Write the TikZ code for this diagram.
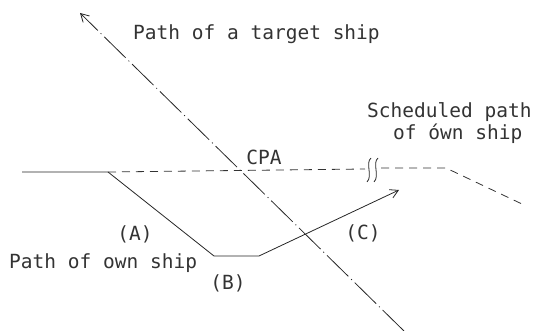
\documentclass[tikz,border=0pt]{standalone}
\usepackage{fontspec}
\setmainfont{DejaVu Sans Mono}
\usetikzlibrary{arrows.meta}
\begin{document}
\begin{tikzpicture}[x=1pt,y=-1pt,
  lbl/.style={inner sep=0pt,font=\fontsize{19.5}{22}\selectfont,text=black!80},
  pathline/.style={line width=0.8pt,black!85},
  schedline/.style={line width=0.8pt,black!80,dash pattern=on 8pt off 6pt},
  targetline/.style={line width=0.8pt,black!85,dash pattern=on 30pt off 4pt on 1pt off 4pt},
  tip/.style={-{Straight Barb[length=8pt,width=9pt,line width=0.8pt]}}]
\useasboundingbox (0,0) rectangle (542,331);
% coordinates
\coordinate (tS) at (404,331);
\coordinate (tE) at (80,13);
\coordinate (o0) at (22,172);
\coordinate (o1) at (108,172);
\coordinate (o2) at (214,256);
\coordinate (o3) at (259,256);
\coordinate (o4) at (399,190);
\coordinate (s1) at (365,169);
\coordinate (s2) at (381,168);
\coordinate (s3) at (446,168);
\coordinate (s4) at (522,204);
% target ship path
\draw[targetline,tip] (tS) -- (tE);
% scheduled path
\draw[schedline] (o1) -- (s1);
\draw[schedline] (s2) -- (s3) -- (s4);
% break mark
\draw[line width=0.8pt,black!85] (371,158) .. controls (365,163) and (373,176) .. (367,182);
\draw[line width=0.8pt,black!85] (378,158) .. controls (372,163) and (380,176) .. (374,182);
% own ship path
\draw[pathline,tip] (o0) -- (o1) -- (o2) -- (o3) -- (o4);
% labels
\node[lbl,anchor=base west] (ttarget) at (133,40) {Path of a target ship};
\node[lbl,anchor=base west] (tsched) at (367,118) {Scheduled path};
\node[lbl,anchor=base west] (tsched2) at (393,140) {of \'own ship};
\node[lbl] (tcpa) at (264,157) {CPA};
\node[lbl] (tA) at (135,234) {(A)};
\node[lbl] (tB) at (228,283) {(B)};
\node[lbl] (tC) at (363,233) {(C)};
\node[lbl,anchor=base west] (town) at (9,269) {Path of own ship};
\end{tikzpicture}
\end{document}
